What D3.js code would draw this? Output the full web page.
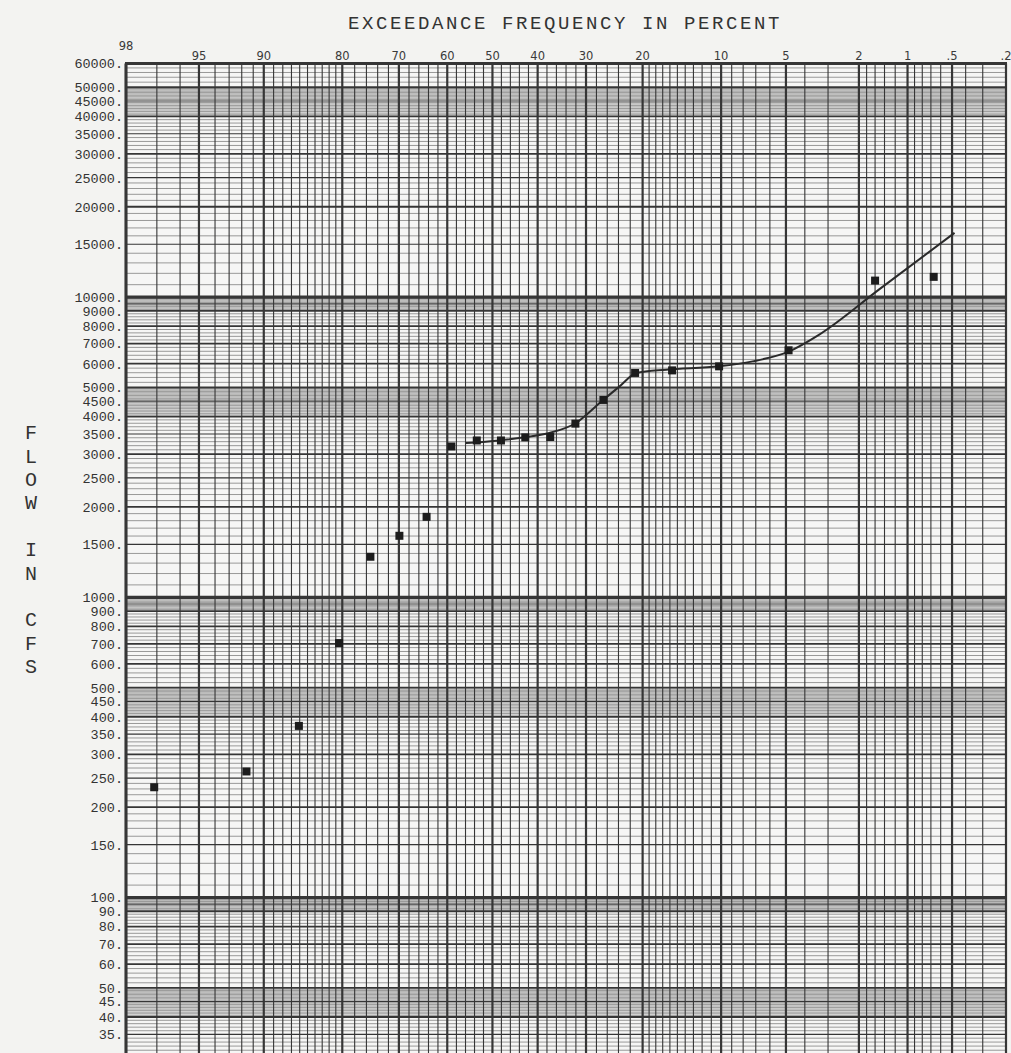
<!DOCTYPE html>
<html>
<head>
<meta charset="utf-8">
<script src="https://cdn.jsdelivr.net/npm/d3@7"></script>
<style>
  html, body { margin: 0; padding: 0; background: #f3f3f1; }
  svg { display: block; }
</style>
</head>
<body>
<svg id="chart" width="1011" height="1053"></svg>
<script>
// Observed flows and their exceedance frequencies (percent)
const exceedance = [97.1, 91.6, 86.1, 80.5, 75.3, 69.9, 64.4, 59.1, 53.5, 48.1,
                    42.7, 37.3, 32.1, 26.7, 21.2, 15.7, 10.2, 4.85, 1.6, 0.67];
const flow = [233, 263, 373, 704, 1365, 1603, 1854, 3180, 3330, 3330,
              3410, 3420, 3790, 4545, 5590, 5700, 5880, 6650, 11350, 11680];

// Fitted frequency curve
const curveP = [55.9, 48.4, 42.5, 37.5, 32.0, 27.4, 23.8, 21.0, 16.5, 10.2, 7.24, 4.81, 3.35, 1.51, 0.48];
const curveQ = [3266, 3332, 3420, 3526, 3808, 4440, 5043, 5589, 5733, 5880, 6109, 6597, 7499, 10609, 16370];

// Axis ticks
const xTicks = [98, 95, 90, 80, 70, 60, 50, 40, 30, 20, 10, 5, 2, 1, 0.5, 0.2];
const xTickLabels = ["98", "95", "90", "80", "70", "60", "50", "40", "30", "20", "10", "5", "2", "1", ".5", ".2"];
const yTicks = [60000, 50000, 45000, 40000, 35000, 30000, 25000, 20000, 15000,
                10000, 9000, 8000, 7000, 6000, 5000, 4500, 4000, 3500, 3000, 2500, 2000, 1500,
                1000, 900, 800, 700, 600, 500, 450, 400, 350, 300, 250, 200, 150,
                100, 90, 80, 70, 60, 50, 45, 40, 35];

const title = "EXCEEDANCE FREQUENCY IN PERCENT";
const yTitleWords = ["FLOW", "IN", "CFS"];

// Inverse standard normal CDF (Acklam)
function probit(p) {
  const a = [-3.969683028665376e+01, 2.209460984245205e+02, -2.759285104469687e+02,
             1.383577518672690e+02, -3.066479806614716e+01, 2.506628277459239e+00];
  const b = [-5.447609879822406e+01, 1.615858368580409e+02, -1.556989798598866e+02,
             6.680131188771972e+01, -1.328068155288572e+01];
  const c = [-7.784894002430293e-03, -3.223964580411365e-01, -2.400758277161838e+00,
             -2.549671667475924e+00, 4.374664141464968e+00, 2.938163982698783e+00];
  const d = [7.784695709041462e-03, 3.224671290700398e-01, 2.445134137142996e+00,
             3.754408661907416e+00];
  const pl = 0.02425, ph = 1 - pl;
  let q, r;
  if (p < pl) {
    q = Math.sqrt(-2 * Math.log(p));
    return (((((c[0]*q+c[1])*q+c[2])*q+c[3])*q+c[4])*q+c[5]) / ((((d[0]*q+d[1])*q+d[2])*q+d[3])*q+1);
  } else if (p <= ph) {
    q = p - 0.5; r = q * q;
    return (((((a[0]*r+a[1])*r+a[2])*r+a[3])*r+a[4])*r+a[5])*q / (((((b[0]*r+b[1])*r+b[2])*r+b[3])*r+b[4])*r+1);
  } else {
    q = Math.sqrt(-2 * Math.log(1 - p));
    return -(((((c[0]*q+c[1])*q+c[2])*q+c[3])*q+c[4])*q+c[5]) / ((((d[0]*q+d[1])*q+d[2])*q+d[3])*q+1);
  }
}
const zq = P => probit(P / 100);

const plotLeft = 126, plotRight = 1006, plotTop = 63.5, plotBottom = 1054.5;
const zScale = d3.scaleLinear().domain([zq(98), zq(0.2)]).range([plotLeft, plotRight]);
const x = P => zScale(zq(P));
const y = d3.scaleLog().domain([30, 60000]).range([plotBottom, plotTop]);

const svg = d3.select("#chart");
const ink = "#363636";

// plot paper
svg.append("rect").attr("x", plotLeft).attr("y", plotTop)
  .attr("width", plotRight - plotLeft).attr("height", 1053 - plotTop)
  .attr("fill", "#f6f6f5");

// ---- vertical grid (exceedance percent) ----
const pctLines = [];
d3.range(980, 800, -10).forEach(v => pctLines.push(v / 10));   // 98 .. 81 by 1
d3.range(800, 200, -20).forEach(v => pctLines.push(v / 10));   // 80 .. 22 by 2
d3.range(200, 20, -10).forEach(v => pctLines.push(v / 10));    // 20 .. 3 by 1
d3.range(20, 10, -2).forEach(v => pctLines.push(v / 10));      // 2 .. 1.2 by .2
d3.range(10, 1, -1).forEach(v => pctLines.push(v / 10));       // 1 .. .2 by .1

const gGrid = svg.append("g");

// ---- horizontal grid (flow) ----
// per decade, in twentieths: 1-4 by .1, 4-5 by .05, 5-9 by .2, 9-10 by .1
const flowLines = [];
[10, 100, 1000, 10000].forEach(dec => {
  for (let i = 20; i < 200; i++) {
    const keep = (i < 80 && i % 2 === 0) || (i >= 80 && i < 100) ||
                 (i >= 100 && i < 180 && i % 4 === 0) || (i >= 180 && i % 2 === 0);
    if (!keep) continue;
    const v = dec * i / 20;
    if (v >= 30 && v <= 60000) flowLines.push({ v, i });
  }
});
function hWidth(d) {
  if (d.i === 20) return 3.2;
  if (d.i % 20 === 0) return 1.8;
  if (d.i % 10 === 0) return 1.2;
  return 0.55;
}
gGrid.selectAll("line.h").data(flowLines).join("line")
  .attr("x1", plotLeft).attr("x2", plotRight)
  .attr("y1", d => y(d.v)).attr("y2", d => y(d.v))
  .attr("stroke", d => d.i % 10 === 0 ? ink : "#4c4c4c")
  .attr("stroke-width", hWidth);

gGrid.selectAll("line.v").data(pctLines).join("line")
  .attr("x1", d => x(d)).attr("x2", d => x(d))
  .attr("y1", plotTop).attr("y2", 1053)
  .attr("stroke", ink)
  .attr("stroke-width", d => xTicks.includes(d) ? 2.2 : 1.1);

// frame
svg.append("line").attr("x1", plotLeft - 1).attr("x2", plotRight + 1).attr("y1", plotTop).attr("y2", plotTop)
  .attr("stroke", ink).attr("stroke-width", 3);
svg.append("line").attr("x1", plotLeft).attr("x2", plotLeft).attr("y1", plotTop).attr("y2", 1053)
  .attr("stroke", ink).attr("stroke-width", 3);
svg.append("line").attr("x1", plotRight).attr("x2", plotRight).attr("y1", plotTop).attr("y2", 1053)
  .attr("stroke", ink).attr("stroke-width", 2);

// ---- fitted curve ----
const curveData = curveP.map((p, i) => [p, curveQ[i]]);
svg.append("path").datum(curveData)
  .attr("fill", "none").attr("stroke", "#2a2a2a").attr("stroke-width", 2)
  .attr("d", d3.line().x(d => x(d[0])).y(d => y(d[1])).curve(d3.curveMonotoneX));

// ---- observed points ----
const pts = exceedance.map((p, i) => [p, flow[i]]);
svg.append("g").selectAll("rect").data(pts).join("rect")
  .attr("x", d => x(d[0]) - 4).attr("y", d => y(d[1]) - 4)
  .attr("width", 8).attr("height", 8)
  .attr("fill", "#1c1c1c");

// ---- labels ----
svg.append("g").selectAll("text").data(yTicks).join("text")
  .attr("x", 123).attr("y", d => y(d)).attr("dy", "0.36em")
  .attr("text-anchor", "end")
  .attr("font-family", "Liberation Mono, monospace").attr("font-size", 13.5)
  .attr("fill", "#333")
  .text(d => d + ".");

svg.append("g").selectAll("text").data(xTicks).join("text")
  .attr("x", d => x(d)).attr("y", (d, i) => i === 0 ? 50 : 60)
  .attr("text-anchor", "middle")
  .attr("font-family", "DejaVu Sans, sans-serif").attr("font-size", 11.5)
  .attr("fill", "#3a3a3a")
  .text((d, i) => xTickLabels[i]);

svg.append("text")
  .attr("x", 565).attr("y", 29).attr("text-anchor", "middle")
  .attr("font-family", "Liberation Mono, monospace").attr("font-size", 19)
  .attr("letter-spacing", 2.6)
  .attr("fill", "#333")
  .text(title);

// vertical axis title, one letter per row
const letters = [];
yTitleWords.forEach((w, wi) => {
  if (wi > 0) letters.push(" ");
  w.split("").forEach(c => letters.push(c));
});
const step = (666 - 432) / (letters.length - 1);
svg.append("g").selectAll("text").data(letters).join("text")
  .attr("x", 31).attr("y", (d, i) => 432 + i * step).attr("dy", "0.36em")
  .attr("text-anchor", "middle")
  .attr("font-family", "Liberation Mono, monospace").attr("font-size", 20)
  .attr("fill", "#333")
  .text(d => d);
</script>
</body>
</html>
